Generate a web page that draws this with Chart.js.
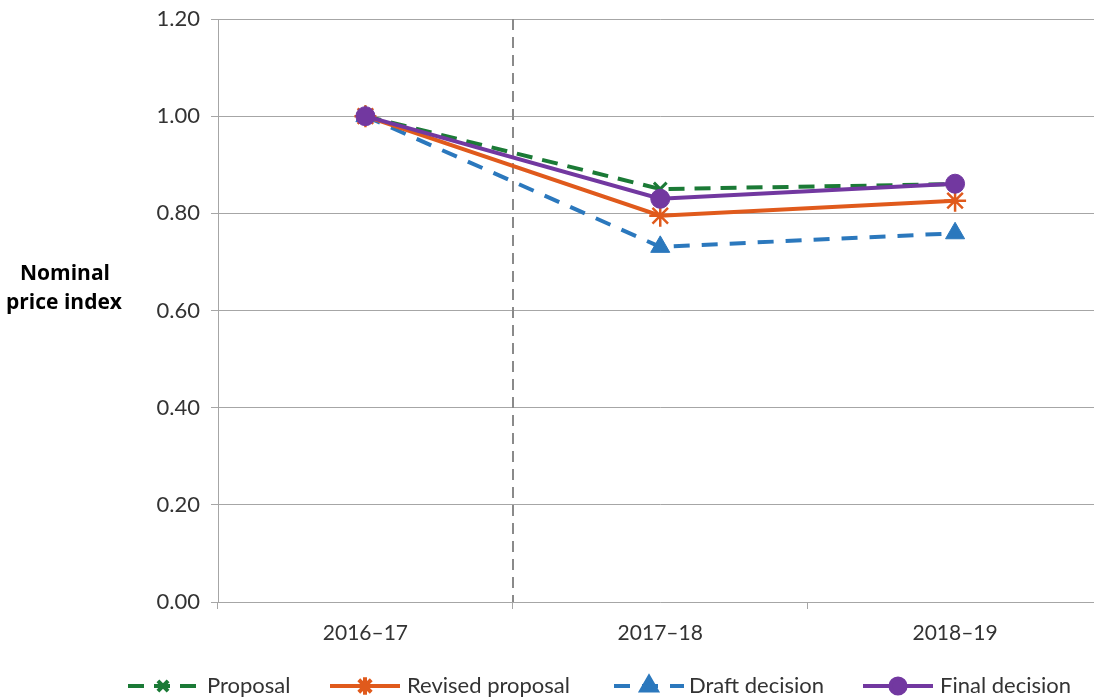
<!DOCTYPE html>
<html>
<head>
<meta charset="utf-8">
<script src="https://cdn.jsdelivr.net/npm/chart.js@4/dist/chart.umd.min.js"></script>
<style>
html,body{margin:0;padding:0;background:#fff;overflow:hidden;width:1094px;height:700px;}
#wrap{position:absolute;left:0;top:0;width:1116px;height:700px;}
</style>
</head>
<body>
<div id="wrap"><canvas id="c" width="1116" height="700"></canvas></div>
<script>
const categories = ['2016\u201317', '2017\u201318', '2018\u201319'];
const proposal = [1.00, 0.85, 0.86];
const revisedProposal = [1.00, 0.795, 0.826];
const draftDecision = [1.00, 0.731, 0.759];
const finalDecision = [1.00, 0.830, 0.861];
const seriesNames = ['Proposal', 'Revised proposal', 'Draft decision', 'Final decision'];
const yTitle = ['Nominal', 'price index'];

const FONT = 'Lato, "Open Sans", sans-serif';
const TFONT = '"Open Sans", Lato, sans-serif';
const GREEN = '#1b7a36', ORANGE = '#e05a1c', BLUE = '#2b78bd', PURPLE = '#7238a0';

const datasets = [
  {label: seriesNames[0], data: proposal, borderColor: GREEN, backgroundColor: GREEN,
   borderWidth: 4, borderDash: [16, 10], pointStyle: 'crossRot', pointRadius: 9,
   pointBorderWidth: 3, pointBorderColor: GREEN, order: 3},
  {label: seriesNames[1], data: revisedProposal, borderColor: ORANGE, backgroundColor: ORANGE,
   borderWidth: 4, pointStyle: 'star', pointRadius: 11,
   pointBorderWidth: 2.5, pointBorderColor: ORANGE, order: 2},
  {label: seriesNames[2], data: draftDecision, borderColor: BLUE, backgroundColor: BLUE,
   borderWidth: 4, borderDash: [16, 12], pointStyle: 'triangle', pointRadius: 11,
   pointBorderWidth: 1, pointBorderColor: BLUE, pointBackgroundColor: BLUE, order: 4},
  {label: seriesNames[3], data: finalDecision, borderColor: PURPLE, backgroundColor: PURPLE,
   borderWidth: 4, pointStyle: 'circle', pointRadius: 9.5,
   pointBorderWidth: 1, pointBorderColor: PURPLE, pointBackgroundColor: PURPLE, order: 1}
];

const extras = {
  id: 'extras',
  beforeDatasetsDraw(chart) {
    const ctx = chart.ctx, x = chart.scales.x, a = chart.chartArea;
    const px = (x.getPixelForValue(0) + x.getPixelForValue(1)) / 2;
    ctx.save();
    ctx.strokeStyle = '#8a8a8a';
    ctx.lineWidth = 2;
    ctx.setLineDash([11, 7]);
    ctx.beginPath();
    ctx.moveTo(Math.round(px), a.top);
    ctx.lineTo(Math.round(px), a.bottom);
    ctx.stroke();
    ctx.restore();
  },
  afterDraw(chart) {
    const ctx = chart.ctx;
    ctx.save();
    // y-axis title
    ctx.fillStyle = '#000';
    ctx.font = 'bold 21px ' + TFONT;
    ctx.textAlign = 'center';
    ctx.textBaseline = 'middle';
    ctx.fillText(yTitle[0], 65, 274);
    ctx.fillText(yTitle[1], 64, 303);
    // legend
    const starts = [128, 330, 614, 863];
    const textX = [207, 407, 689, 940];
    const y = 686;
    chart.data.datasets.forEach((ds, i) => {
      const x0 = starts[i], x1 = x0 + 70;
      ctx.save();
      ctx.strokeStyle = ds.borderColor;
      ctx.lineWidth = ds.borderWidth;
      ctx.setLineDash(ds.borderDash || []);
      ctx.beginPath();
      ctx.moveTo(x0, y);
      ctx.lineTo(x1, y);
      ctx.stroke();
      ctx.setLineDash([]);
      ctx.strokeStyle = ds.pointBorderColor;
      ctx.fillStyle = ds.pointBackgroundColor || ds.backgroundColor;
      Chart.helpers.drawPoint(ctx, {
        pointStyle: ds.pointStyle, radius: ds.pointRadius * 0.8, rotation: 0,
        borderWidth: ds.pointBorderWidth * 0.8
      }, (x0 + x1) / 2, y);
      ctx.restore();
      ctx.fillStyle = '#333333';
      ctx.font = '22px ' + FONT;
      ctx.textAlign = 'left';
      ctx.textBaseline = 'middle';
      ctx.fillText(ds.label, textX[i], y);
    });
    ctx.restore();
  }
};

new Chart(document.getElementById('c'), {
  type: 'line',
  data: {labels: categories, datasets: datasets},
  options: {
    responsive: false,
    animation: false,
    layout: {padding: {top: 19, right: 0, bottom: 0, left: 0}},
    plugins: {legend: {display: false}, tooltip: {enabled: false}},
    elements: {line: {tension: 0}},
    scales: {
      x: {
        offset: true,
        grid: {display: true, drawOnChartArea: false, drawTicks: true, tickLength: 7,
               color: '#a6a6a6', offset: true},
        border: {display: false},
        ticks: {color: '#333333', font: {family: FONT, size: 21}, padding: 12, maxRotation: 0},
        afterFit(s) { s.height = 98; s.paddingLeft = 0; s.paddingRight = 0; }
      },
      y: {
        min: 0, max: 1.2,
        ticks: {stepSize: 0.2, color: '#333333', font: {family: FONT, size: 22}, padding: 11,
                callback: v => Number(v).toFixed(2)},
        grid: {color: '#a6a6a6', lineWidth: 1, tickLength: 7},
        border: {display: true, color: '#a6a6a6', width: 1},
        afterFit(s) { s.width = 218; s.paddingTop = 0; s.paddingBottom = 0; }
      }
    }
  },
  plugins: [extras]
});
</script>
</body>
</html>
